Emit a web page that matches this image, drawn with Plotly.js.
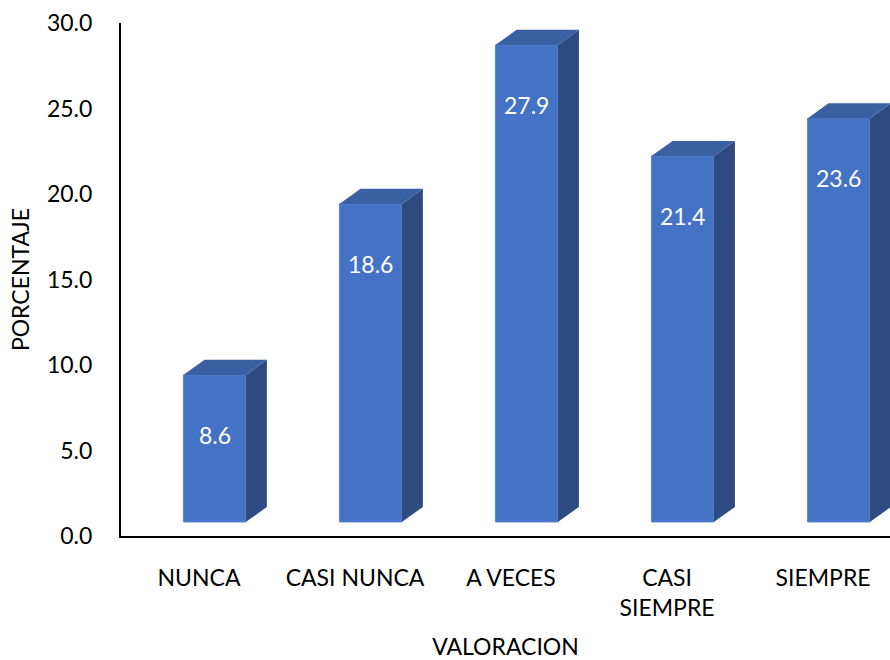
<!DOCTYPE html>
<html>
<head>
<meta charset="utf-8">
<script src="https://cdn.plot.ly/plotly-3.0.1.min.js"></script>
<style>
  html, body { margin: 0; padding: 0; background: #ffffff; overflow: hidden; }
  #chart { width: 890px; height: 660px; }
</style>
</head>
<body>
<div id="chart"></div>
<script>
// Survey results: share of answers per rating level
const categories = ['NUNCA', 'CASI NUNCA', 'A VECES', 'CASI SIEMPRE', 'SIEMPRE'];
const tickLabels = ['NUNCA', 'CASI NUNCA', 'A VECES', 'CASI<br>SIEMPRE', 'SIEMPRE'];
const percentages = [8.6, 18.6, 27.9, 21.4, 23.6];
const yTicks = [0, 5, 10, 15, 20, 25, 30];

// Pseudo-3D box geometry (in axis units)
const floorLift = 0.82;   // front face sits slightly above the floor
const barWidth = 0.4;
const barShift = 0.1;     // front face offset to the right of the category slot
const depthX = 0.135;     // depth of the box, horizontal component
const depthY = 0.88;      // depth of the box, vertical component

const FRONT = '#4472C4';
const TOP = '#3A60A4';
const SIDE = '#2D4B80';
const FONT = 'Lato, "Open Sans", sans-serif';

const xIdx = categories.map((_, i) => i);

const traces = [];

// front faces
traces.push({
  type: 'bar',
  x: xIdx,
  y: percentages,
  base: percentages.map(() => floorLift),
  width: barWidth,
  offset: barShift - barWidth / 2,
  marker: { color: FRONT, line: { color: '#5A84CE', width: 1 } },
  hoverinfo: 'skip',
  showlegend: false
});

// top and side faces of each box
percentages.forEach((v, i) => {
  const x0 = i + barShift - barWidth / 2;
  const x1 = x0 + barWidth;
  const top = floorLift + v;
  traces.push({
    type: 'scatter', mode: 'lines', fill: 'toself',
    x: [x1, x1, x1 + depthX, x1 + depthX, x1],
    y: [floorLift, top, top + depthY, floorLift + depthY, floorLift],
    line: { width: 0, color: SIDE }, fillcolor: SIDE,
    hoverinfo: 'skip', showlegend: false
  });
  traces.push({
    type: 'scatter', mode: 'lines', fill: 'toself',
    x: [x0, x1, x1 + depthX, x0 + depthX, x0],
    y: [top, top, top + depthY, top + depthY, top],
    line: { width: 0, color: TOP }, fillcolor: TOP,
    hoverinfo: 'skip', showlegend: false
  });
});

// value labels near the top of each front face
const annotations = percentages.map((v, i) => ({
  x: i + barShift,
  y: floorLift + v,
  xref: 'x', yref: 'y',
  text: v.toFixed(1),
  showarrow: false,
  yanchor: 'middle',
  yshift: -60,
  font: { family: FONT, size: 23, color: '#ffffff' }
}));

const layout = {
  width: 890,
  height: 660,
  margin: { l: 121, r: 0, t: 23, b: 124 },
  paper_bgcolor: '#ffffff',
  plot_bgcolor: '#ffffff',
  font: { family: FONT, size: 23, color: '#000000' },
  showlegend: false,
  bargap: 0,
  xaxis: {
    range: [-0.5, 4.429],
    tickmode: 'array',
    tickvals: xIdx,
    ticktext: tickLabels,
    ticks: '',
    showgrid: false,
    zeroline: false,
    showline: true,
    linecolor: '#000000',
    linewidth: 2,
    ticklabelstandoff: 20,
    title: { text: 'VALORACION', font: { family: FONT, size: 23, color: '#000000' }, standoff: 22 },
    fixedrange: true
  },
  yaxis: {
    range: [0, 30],
    tickmode: 'array',
    tickvals: yTicks,
    ticktext: yTicks.map(t => t.toFixed(1)),
    ticks: '',
    showgrid: false,
    zeroline: false,
    showline: true,
    linecolor: '#000000',
    linewidth: 2,
    ticklabelstandoff: 22,
    title: { text: 'PORCENTAJE', font: { family: FONT, size: 23, color: '#000000' }, standoff: 11 },
    fixedrange: true
  },
  annotations: annotations
};

Plotly.newPlot('chart', traces, layout, { staticPlot: true, displayModeBar: false });
</script>
</body>
</html>
